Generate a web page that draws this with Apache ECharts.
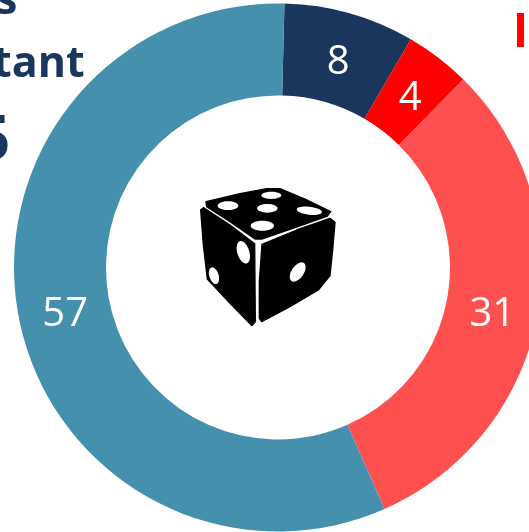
<!DOCTYPE html>
<html><head><meta charset="utf-8">
<style>html,body{margin:0;padding:0;background:#fff}#c{width:529px;height:532px}</style>
<script src="https://cdn.jsdelivr.net/npm/echarts@6/dist/echarts.min.js"></script>
</head><body><div id="c"></div>
<script>
const categories = ['A', 'B', 'C', 'D'];
const values = [8, 4, 31, 57];
const colors = ['#1b365d', '#ff0000', '#ff5050', '#4591ad'];
const labelNudges = [[0, 8], [-2, 7], [-3, 7], [4, 4]];
const cutoffText = [['s', 'tant'], ['5']];

const chart = echarts.init(document.getElementById('c'), null, {renderer: 'canvas'});
const navy = '#1b365d';
const poly = (points, fill) => ({type: 'polygon', shape: {points}, style: {fill, stroke: fill, lineWidth: 4, lineJoin: 'round'}});
const pip = (cx, cy, rx, ry, rotation) => ({type: 'ellipse', x: cx, y: cy, originX: 0, originY: 0, rotation: rotation || 0,
  shape: {cx: 0, cy: 0, rx, ry}, style: {fill: '#fff'}});

chart.setOption({
  animation: false,
  backgroundColor: '#fff',
  series: [{
    type: 'pie',
    center: [278, 267.5],
    radius: [172, 264],
    startAngle: 88.6,
    clockwise: true,
    silent: true,
    data: categories.map((name, i) => ({name, value: values[i], itemStyle: {color: colors[i]},
      label: {offset: labelNudges[i]}})),
    label: {show: true, position: 'inside', formatter: '{c}', color: '#fff', fontFamily: 'Open Sans', fontSize: 40},
    labelLine: {show: false}
  }],
  graphic: [
    {type: 'text', left: -4, top: -20, style: {text: cutoffText[0][0], fontFamily: 'Open Sans', fontWeight: 'bold', fontSize: 43, fill: navy}},
    {type: 'text', left: -7, top: 43, style: {text: cutoffText[0][1], fontFamily: 'Open Sans', fontWeight: 'bold', fontSize: 43, fill: navy}},
    {type: 'text', left: -25, top: 111, style: {text: cutoffText[1][0], fontFamily: 'Open Sans', fontWeight: 'bold', fontSize: 62, fill: navy}},
    {type: 'rect', shape: {x: 517, y: 13, width: 7, height: 34}, style: {fill: '#ff0000'}},
    {type: 'group', x: 190, y: 175, scaleX: 1 / 3, scaleY: 1 / 3, children: [
      poly([[48,80],[150,56],[230,41],[270,41],[345,72],[422,110],[412,123],[315,158],[215,192],[195,192],[120,140],[50,95]], '#000'),
      poly([[32,104],[40,98],[120,150],[194,206],[196,440],[186,452],[120,385],[52,312],[40,210]], '#000'),
      poly([[216,208],[320,165],[420,130],[435,142],[428,225],[420,302],[385,345],[300,395],[215,440],[208,430],[208,320]], '#000'),
      pip(114, 92, 31, 13),
      pip(244, 61, 30, 11),
      pip(232, 100, 31, 13),
      pip(358, 107, 38, 12, -0.12),
      pip(217, 152, 35, 15),
      pip(160, 232, 18, 35, 0.3),
      pip(72, 302, 14, 26, 0.3),
      pip(323, 291, 18, 33, -0.6)
    ]}
  ]
});
</script></body></html>
